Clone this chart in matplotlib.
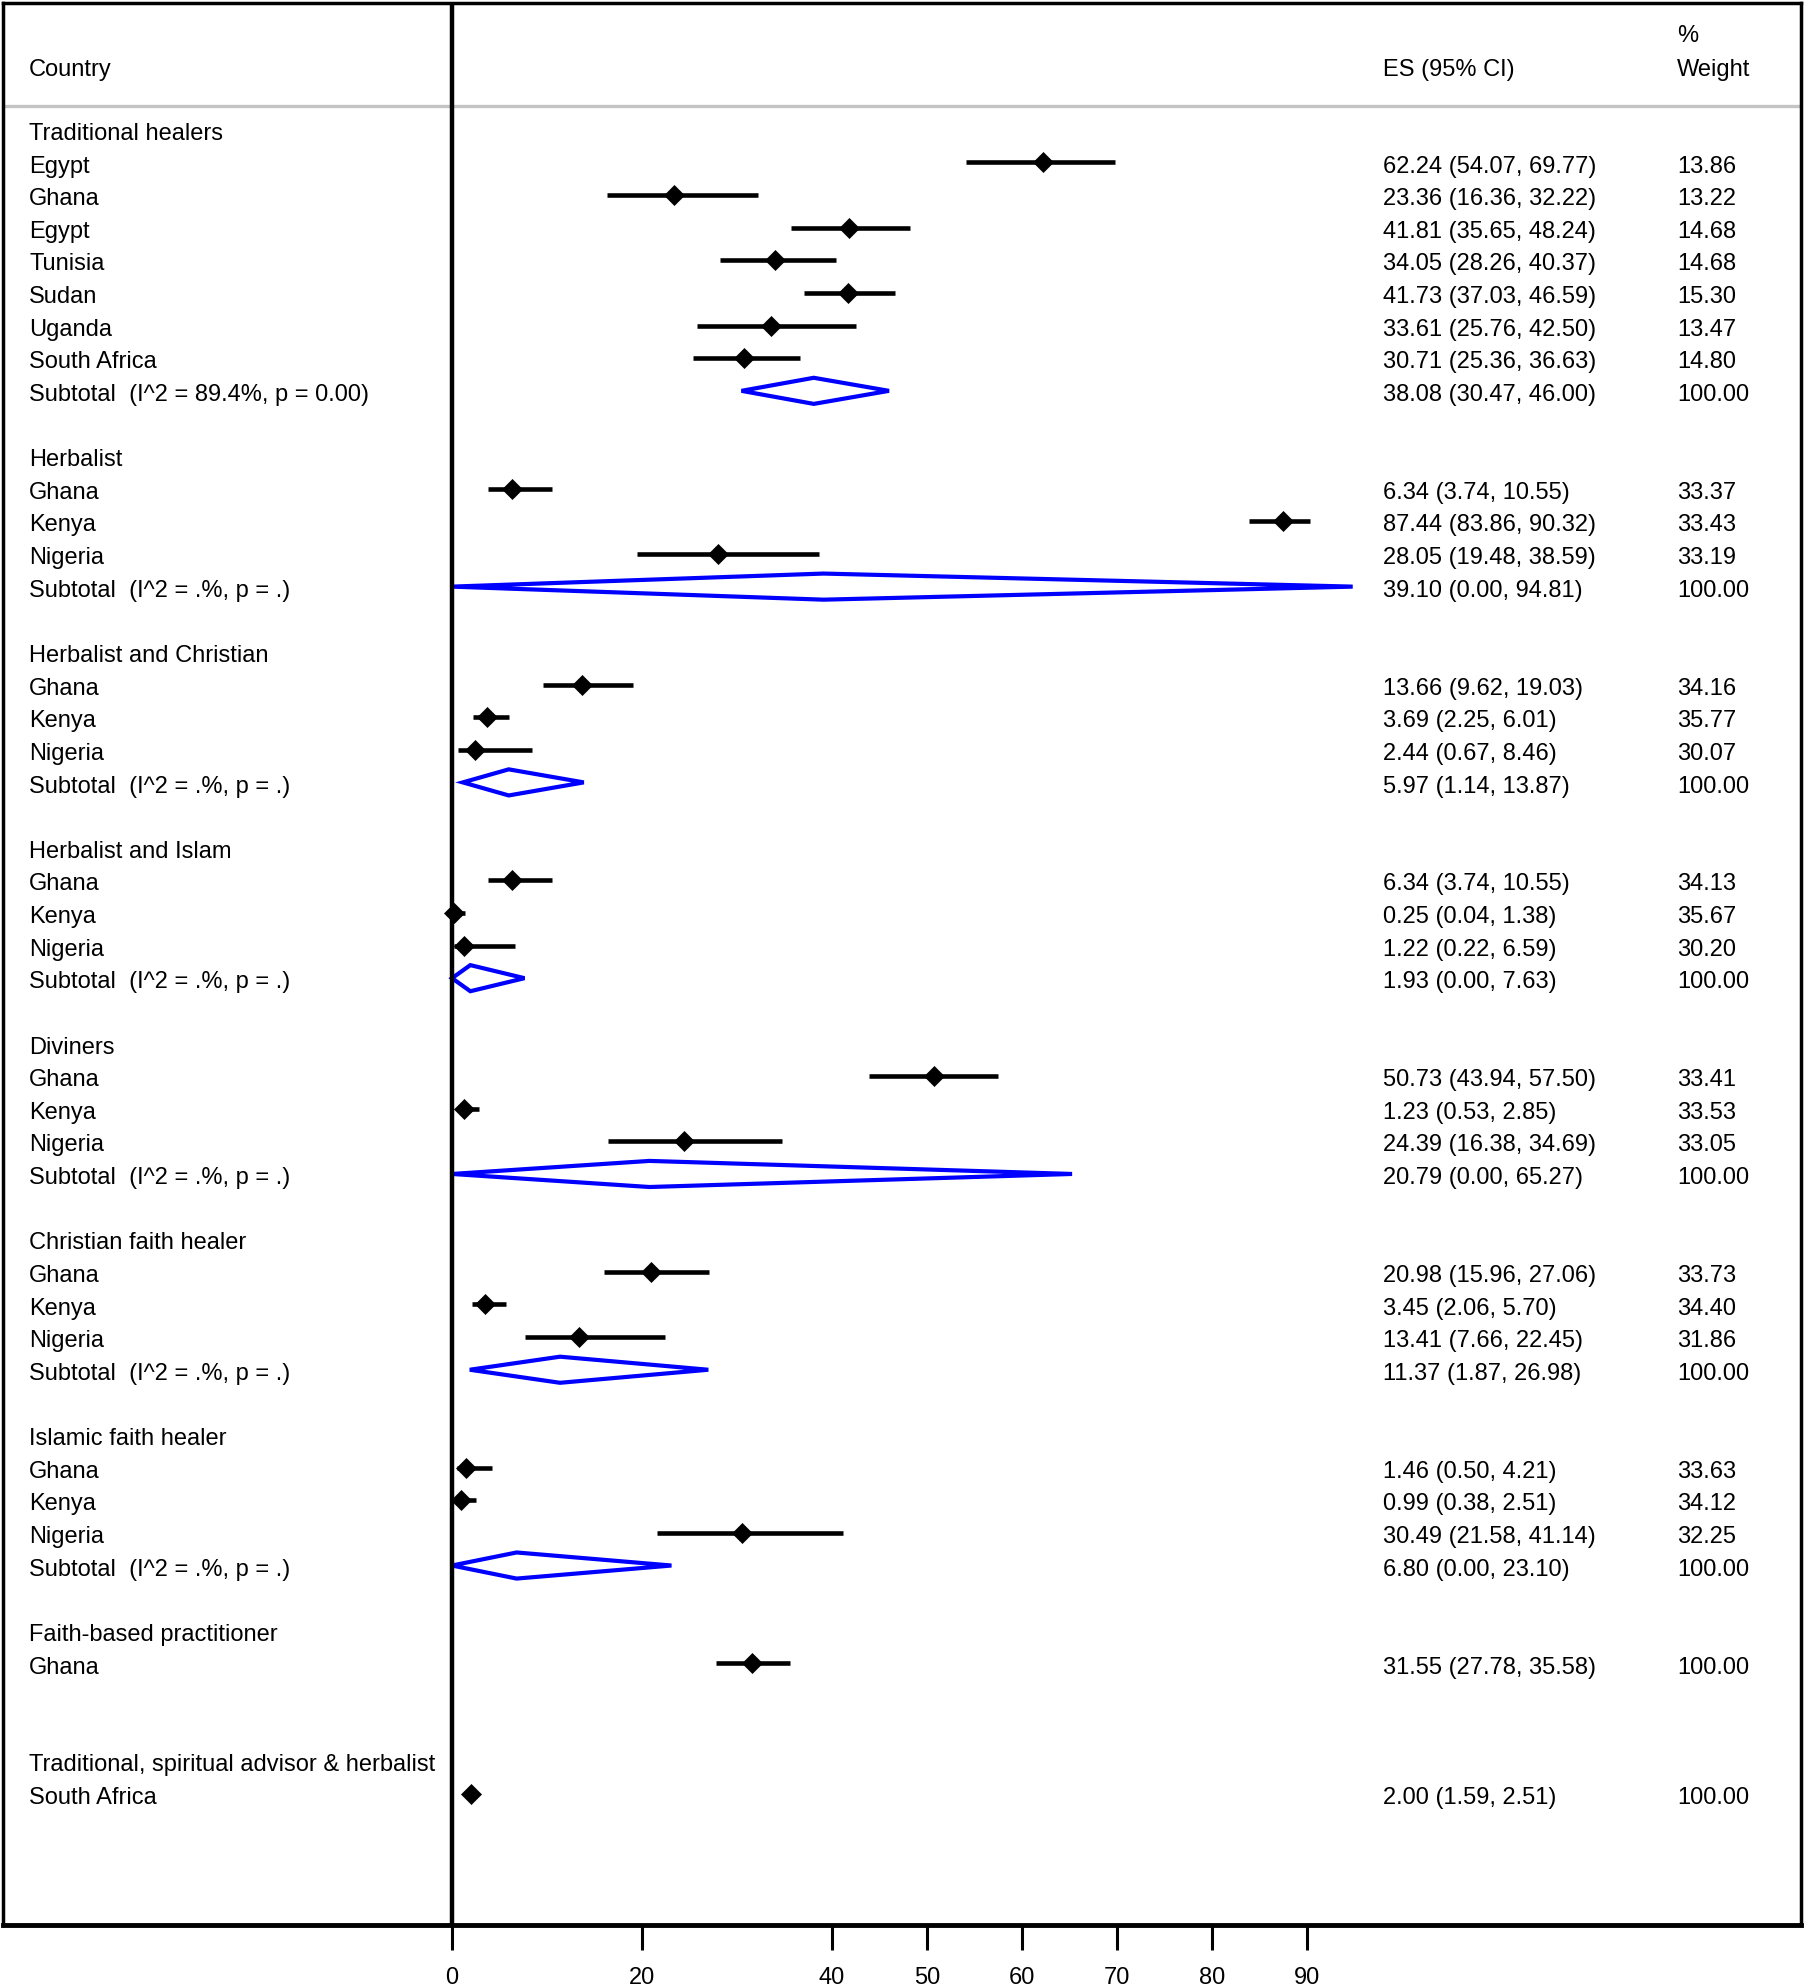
import matplotlib
matplotlib.use("Agg")
import matplotlib.pyplot as plt
from matplotlib.patches import Polygon

plt.rcParams['font.family'] = ['Liberation Sans', 'DejaVu Sans']

# ---------------- data ----------------
group_names = [
    "Traditional healers",
    "Herbalist",
    "Herbalist and Christian",
    "Herbalist and Islam",
    "Diviners",
    "Christian faith healer",
    "Islamic faith healer",
    "Faith-based practitioner",
    "Traditional, spiritual advisor & herbalist",
]

study_countries = [
    ["Egypt", "Ghana", "Egypt", "Tunisia", "Sudan", "Uganda", "South Africa"],
    ["Ghana", "Kenya", "Nigeria"],
    ["Ghana", "Kenya", "Nigeria"],
    ["Ghana", "Kenya", "Nigeria"],
    ["Ghana", "Kenya", "Nigeria"],
    ["Ghana", "Kenya", "Nigeria"],
    ["Ghana", "Kenya", "Nigeria"],
    ["Ghana"],
    ["South Africa"],
]

study_es = [
    [62.24, 23.36, 41.81, 34.05, 41.73, 33.61, 30.71],
    [6.34, 87.44, 28.05],
    [13.66, 3.69, 2.44],
    [6.34, 0.25, 1.22],
    [50.73, 1.23, 24.39],
    [20.98, 3.45, 13.41],
    [1.46, 0.99, 30.49],
    [31.55],
    [2.00],
]
study_lo = [
    [54.07, 16.36, 35.65, 28.26, 37.03, 25.76, 25.36],
    [3.74, 83.86, 19.48],
    [9.62, 2.25, 0.67],
    [3.74, 0.04, 0.22],
    [43.94, 0.53, 16.38],
    [15.96, 2.06, 7.66],
    [0.50, 0.38, 21.58],
    [27.78],
    [1.59],
]
study_hi = [
    [69.77, 32.22, 48.24, 40.37, 46.59, 42.50, 36.63],
    [10.55, 90.32, 38.59],
    [19.03, 6.01, 8.46],
    [10.55, 1.38, 6.59],
    [57.50, 2.85, 34.69],
    [27.06, 5.70, 22.45],
    [4.21, 2.51, 41.14],
    [35.58],
    [2.51],
]
study_weight = [
    [13.86, 13.22, 14.68, 14.68, 15.30, 13.47, 14.80],
    [33.37, 33.43, 33.19],
    [34.16, 35.77, 30.07],
    [34.13, 35.67, 30.20],
    [33.41, 33.53, 33.05],
    [33.73, 34.40, 31.86],
    [33.63, 34.12, 32.25],
    [100.00],
    [100.00],
]

subtotal_het = ["(I^2 = 89.4%, p = 0.00)", "(I^2 = .%, p = .)", "(I^2 = .%, p = .)",
                "(I^2 = .%, p = .)", "(I^2 = .%, p = .)", "(I^2 = .%, p = .)",
                "(I^2 = .%, p = .)", None, None]
subtotal_es = [38.08, 39.10, 5.97, 1.93, 20.79, 11.37, 6.80, None, None]
subtotal_lo = [30.47, 0.00, 1.14, 0.00, 0.00, 1.87, 0.00, None, None]
subtotal_hi = [46.00, 94.81, 13.87, 7.63, 65.27, 26.98, 23.10, None, None]
subtotal_weight = [100.00] * 7 + [None, None]

x_ticks = [0, 20, 40, 50, 60, 70, 80, 90]

# ---------------- layout ----------------
W, H = 1804, 1985
fig = plt.figure(figsize=(W / 100, H / 100), dpi=100)
px_left, px_right, px_top, px_bottom = 2.5, 1801.0, 3.0, 1924.5
ax = fig.add_axes([px_left / W, (H - px_bottom) / H,
                   (px_right - px_left) / W, (px_bottom - px_top) / H])

x0_px, k = 452.0, 9.5
ax.set_xlim((px_left - x0_px) / k, (px_right - x0_px) / k)
row0_px, row_h = 129.8, 32.63
ax.set_ylim((px_bottom - row0_px) / row_h, (px_top - row0_px) / row_h)

for s in ax.spines.values():
    s.set_linewidth(2.5)
ax.spines['bottom'].set_linewidth(3.5)
ax.set_yticks([])
ax.set_xticks(x_ticks)
ax.set_xticklabels([str(t) for t in x_ticks])
ax.tick_params(axis='x', direction='out', length=18, width=2.2, pad=12.5,
               labelsize=17)

FS = 17
col_label = (29 - x0_px) / k
col_es = (1383 - x0_px) / k
col_w = (1677 - x0_px) / k
BL = 0.31  # baseline offset below row centre (rows)

def txt(x, y, s):
    ax.text(x, y + BL, s, fontsize=FS, ha='left', va='baseline', color='black')

# header
hdr_row = (76 - row0_px) / row_h - BL
txt(col_label, hdr_row, "Country")
txt(col_es, hdr_row, "ES (95% CI)")
txt(col_w, hdr_row, "Weight")
txt(col_w, (42 - row0_px) / row_h - BL, "%")
ax.axhline((106 - row0_px) / row_h, color='#c4c4c4', lw=2.4, zorder=1)

blue = '#0000ff'
r = 0
for g, name in enumerate(group_names):
    txt(col_label, r, name)
    r += 1
    for c, es, lo, hi, w in zip(study_countries[g], study_es[g], study_lo[g],
                                study_hi[g], study_weight[g]):
        ax.hlines(r, lo, hi, color='black', lw=3.3, zorder=3)
        ax.plot([es], [r], marker='D', color='black', ms=10.5, mew=0.5, zorder=4)
        txt(col_label, r, c)
        txt(col_es, r, f"{es:.2f} ({lo:.2f}, {hi:.2f})")
        txt(col_w, r, f"{w:.2f}")
        r += 1
    if subtotal_es[g] is not None:
        es, lo, hi = subtotal_es[g], subtotal_lo[g], subtotal_hi[g]
        d = 0.40
        poly = Polygon([[lo, r], [es, r - d], [hi, r], [es, r + d]], closed=True,
                       fill=False, edgecolor=blue, lw=3.0, joinstyle='miter',
                       zorder=3)
        ax.add_patch(poly)
        txt(col_label, r, "Subtotal  " + subtotal_het[g])
        txt(col_es, r, f"{es:.2f} ({lo:.2f}, {hi:.2f})")
        txt(col_w, r, f"{subtotal_weight[g]:.2f}")
    r += 2

ax.axvline(0, color='black', lw=3.2, zorder=5)

fig.savefig("out.png", dpi=100)
